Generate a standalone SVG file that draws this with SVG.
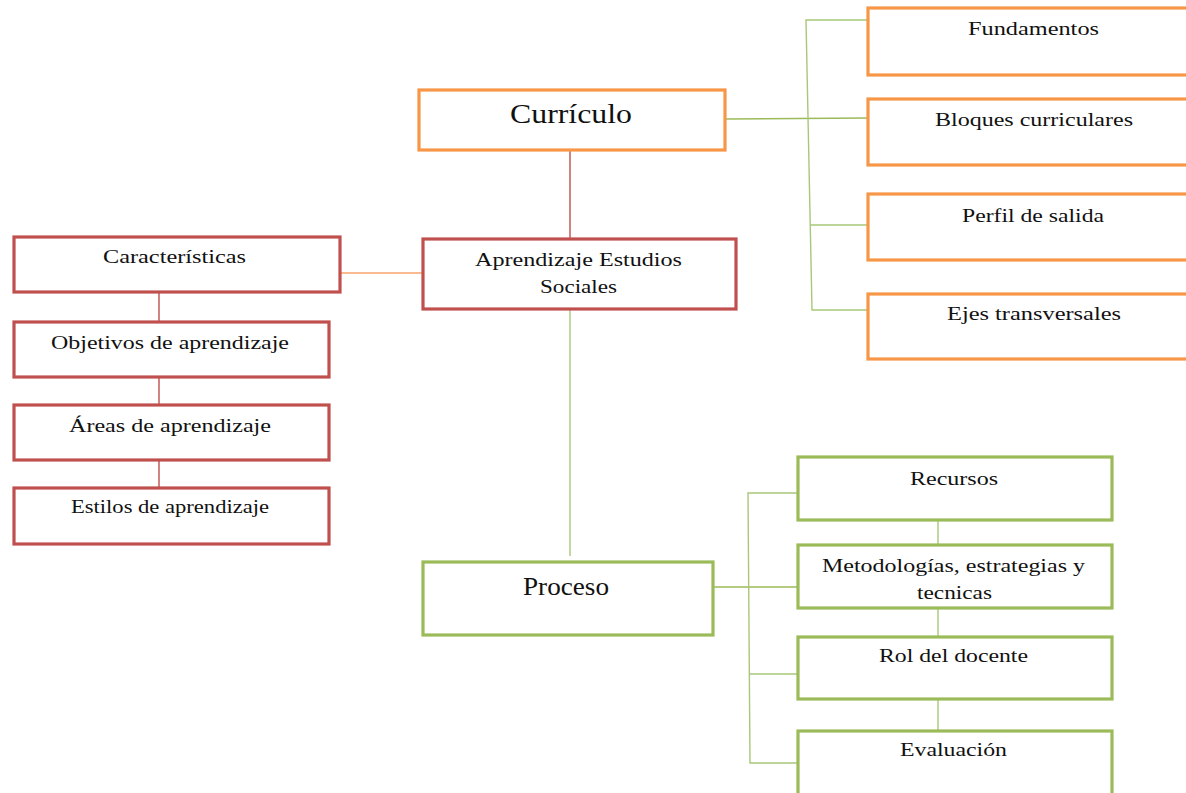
<svg xmlns="http://www.w3.org/2000/svg" width="1186" height="793" viewBox="0 0 1186 793">
<style>
.box{fill:#fff;stroke-width:3.2}
.o{stroke:#F79646}
.r{stroke:#C0504D}
.g{stroke:#9BBB59}
.t{font-family:"Liberation Serif","Times New Roman",serif;font-size:19px;fill:#111}
.c{fill:none;stroke-width:1.4}
</style>
<rect width="1186" height="793" fill="#fff"/>
<g id="connectors">
<path class="c" stroke="#C0504D" d="M570,150 V239"/>
<path class="c" stroke="#F7A56A" d="M340,273 H422"/>
<path class="c" stroke="#C0504D" d="M159,292 V322 M159,377 V404 M159,460 V488"/>
<path class="c" stroke="#9BBB59" d="M725,119 L868,118"/>
<path class="c" stroke="#A9C77A" d="M868,20 H806 L812,310 H868 M810,225 H868"/>
<path class="c" stroke="#A9C77A" d="M570,309 V556"/>
<path class="c" stroke="#9BBB59" d="M713,587 H798"/>
<path class="c" stroke="#A9C77A" d="M798,493 H748 L750,763 H798 M749,674 H798"/>
<path class="c" stroke="#A9C77A" d="M938,520 V545 M938,608 V637 M938,699 V731"/>
</g>
<g id="curriculo">
<rect class="box o" x="419" y="90" width="306" height="60"/>
<text class="t" x="510" y="123" style="font-size:28px" textLength="122" lengthAdjust="spacingAndGlyphs">Currículo</text>
</g>
<g id="aprendizaje">
<rect class="box r" x="423" y="239" width="313" height="70"/>
<text class="t" x="475" y="266" textLength="207" lengthAdjust="spacingAndGlyphs">Aprendizaje Estudios</text>
<text class="t" x="540" y="293" textLength="77" lengthAdjust="spacingAndGlyphs">Sociales</text>
</g>
<g id="fundamentos">
<rect class="box o" x="868" y="8" width="340" height="67"/>
<text class="t" x="968" y="35" textLength="131" lengthAdjust="spacingAndGlyphs">Fundamentos</text>
</g>
<g id="bloques">
<rect class="box o" x="868" y="99" width="340" height="66"/>
<text class="t" x="935" y="126" textLength="198" lengthAdjust="spacingAndGlyphs">Bloques curriculares</text>
</g>
<g id="perfil">
<rect class="box o" x="868" y="194" width="340" height="66"/>
<text class="t" x="962" y="222" textLength="142" lengthAdjust="spacingAndGlyphs">Perfil de salida</text>
</g>
<g id="ejes">
<rect class="box o" x="868" y="294" width="340" height="65"/>
<text class="t" x="947" y="320" textLength="174" lengthAdjust="spacingAndGlyphs">Ejes transversales</text>
</g>
<g id="caracteristicas">
<rect class="box r" x="14" y="237" width="326" height="55"/>
<text class="t" x="103" y="263" textLength="143" lengthAdjust="spacingAndGlyphs">Características</text>
</g>
<g id="objetivos">
<rect class="box r" x="14" y="322" width="315" height="55"/>
<text class="t" x="51" y="349" textLength="238" lengthAdjust="spacingAndGlyphs">Objetivos de aprendizaje</text>
</g>
<g id="areas">
<rect class="box r" x="14" y="405" width="315" height="55"/>
<text class="t" x="69" y="432" textLength="202" lengthAdjust="spacingAndGlyphs">Áreas de aprendizaje</text>
</g>
<g id="estilos">
<rect class="box r" x="14" y="488" width="315" height="56"/>
<text class="t" x="71" y="513" textLength="198" lengthAdjust="spacingAndGlyphs">Estilos de aprendizaje</text>
</g>
<g id="proceso">
<rect class="box g" x="423" y="562" width="290" height="73"/>
<text class="t" x="523" y="595" style="font-size:25px" textLength="86" lengthAdjust="spacingAndGlyphs">Proceso</text>
</g>
<g id="recursos">
<rect class="box g" x="798" y="457" width="314" height="63"/>
<text class="t" x="910" y="485" textLength="88" lengthAdjust="spacingAndGlyphs">Recursos</text>
</g>
<g id="metodologias">
<rect class="box g" x="798" y="545" width="314" height="63"/>
<text class="t" x="822" y="572" textLength="263" lengthAdjust="spacingAndGlyphs">Metodologías, estrategias y</text>
<text class="t" x="917" y="599" textLength="75" lengthAdjust="spacingAndGlyphs">tecnicas</text>
</g>
<g id="rol">
<rect class="box g" x="798" y="637" width="314" height="62"/>
<text class="t" x="879" y="662" textLength="149" lengthAdjust="spacingAndGlyphs">Rol del docente</text>
</g>
<g id="evaluacion">
<rect class="box g" x="798" y="731" width="314" height="70"/>
<text class="t" x="900" y="756" textLength="107" lengthAdjust="spacingAndGlyphs">Evaluación</text>
</g>
</svg>
